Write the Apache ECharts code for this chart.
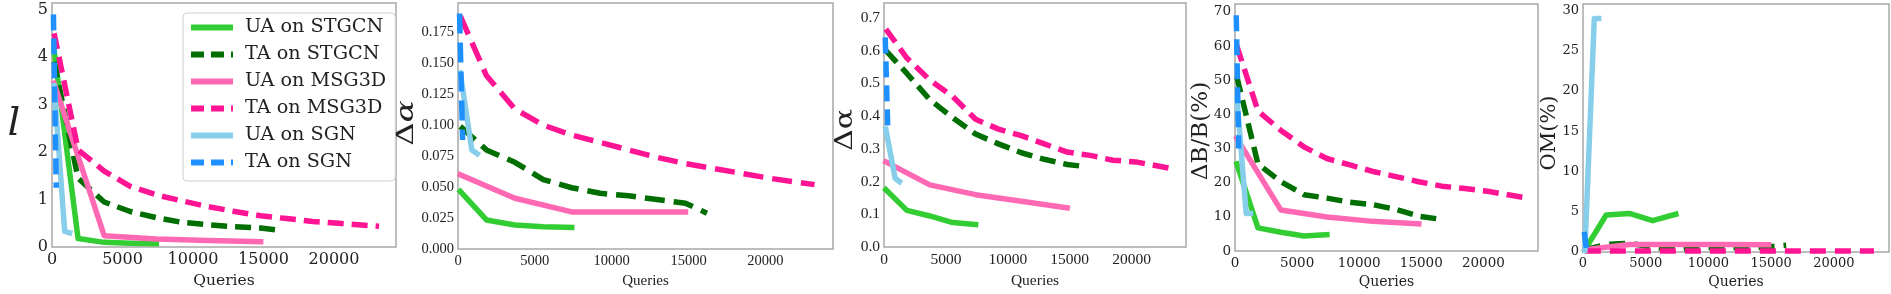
<!DOCTYPE html>
<html><head><meta charset="utf-8">
<script src="https://cdn.jsdelivr.net/npm/echarts@6/dist/echarts.min.js"></script>
<style>html,body{margin:0;padding:0;background:#fff}#c{width:1891px;height:294px}</style>
</head><body><div id="c"></div>
<script>
// ---- data ----
const seriesNames = ['UA on STGCN','TA on STGCN','UA on MSG3D','TA on MSG3D','UA on SGN','TA on SGN'];
const seriesColors = ['#32CD32','#006E00','#FF69B4','#FF1493','#87CEEB','#1E90FF'];
const seriesDashed = [false,true,false,true,false,true];

const xUA_STGCN = [150, 1850, 3700, 5550, 7400];
const xTA_STGCN = [150, 1850, 3700, 5550, 7400, 9250, 11100, 12950, 14800, 16200];
const xUA_MSG3D = [150, 3700, 7400, 11100, 14800];
const xTA_MSG3D = [150, 1850, 3700, 5550, 7400, 9250, 11100, 12950, 14800, 16650, 18500, 20350, 23200];
const xUA_SGN = [150, 900, 1250];
const xTA_SGN = [100, 300];

// panel 1: l
const l_UA_STGCN = [4.15, 0.18, 0.10, 0.08, 0.07];
const l_TA_STGCN = [3.9, 1.45, 0.95, 0.75, 0.62, 0.52, 0.47, 0.43, 0.40, 0.35];
const l_UA_MSG3D = [3.45, 0.24, 0.17, 0.14, 0.115];
const l_TA_MSG3D = [4.5, 2.05, 1.6, 1.28, 1.1, 0.97, 0.85, 0.75, 0.66, 0.6, 0.54, 0.5, 0.44];
const l_UA_SGN = [3.4, 0.33, 0.3];
const l_TA_SGN = [4.9, 1.25];

// panel 2: Δa
const da_UA_STGCN = [0.0465, 0.0235, 0.0195, 0.018, 0.0175];
const da_TA_STGCN = [0.099, 0.080, 0.070, 0.056, 0.0495, 0.045, 0.043, 0.040, 0.037, 0.029];
const da_UA_MSG3D = [0.060, 0.041, 0.030, 0.030, 0.030];
const da_TA_MSG3D = [0.188, 0.140, 0.113, 0.100, 0.092, 0.086, 0.080, 0.074, 0.069, 0.065, 0.061, 0.057, 0.052];
const da_UA_SGN = [0.142, 0.080, 0.077];
const da_TA_SGN = [0.19, 0.088];

// panel 3: Δα
const dal_UA_STGCN = [0.175, 0.112, 0.095, 0.075, 0.069];
const dal_TA_STGCN = [0.60, 0.53, 0.45, 0.395, 0.345, 0.315, 0.288, 0.268, 0.252, 0.246];
const dal_UA_MSG3D = [0.26, 0.19, 0.16, 0.14, 0.12];
const dal_TA_MSG3D = [0.665, 0.577, 0.51, 0.46, 0.39, 0.36, 0.34, 0.315, 0.29, 0.28, 0.265, 0.26, 0.24];
const dal_UA_SGN = [0.36, 0.21, 0.20];
const dal_TA_SGN = [0.64, 0.37];

// panel 4: ΔB/B(%)
const db_UA_STGCN = [25.5, 6.8, 5.5, 4.4, 4.8];
const db_TA_STGCN = [51, 25.5, 20.3, 16.5, 15.5, 14.3, 13.6, 12.2, 10.2, 9.5];
const db_UA_MSG3D = [33, 12, 10, 8.7, 8.0];
const db_TA_MSG3D = [60, 41, 35.3, 30.5, 27.1, 25.2, 23.3, 21.8, 20.3, 19, 18.3, 17.5, 15.7];
const db_UA_SGN = [45, 11, 11];
const db_TA_SGN = [69, 30];

// panel 5: OM(%)
const om_UA_STGCN = [0.3, 4.6, 4.8, 3.9, 4.7];
const om_TA_STGCN = [0.3, 0.95, 1.1, 0.6, 0.3, 0.6, 0.55, 0.5, 0.65, 0.85];
const om_UA_MSG3D = [0.3, 0.95, 0.95, 0.95, 0.9];
const om_TA_MSG3D = [0.15, 0.15, 0.15, 0.15, 0.15, 0.15, 0.15, 0.15, 0.15, 0.15, 0.15, 0.15, 0.15];
const om_UA_SGN = [0.2, 29, 29];
const om_TA_SGN = [2.5, 0.1];

const xTicks = [0, 5000, 10000, 15000, 20000];
const yTicks1 = [0, 1, 2, 3, 4, 5];
const yTicks2 = [0, 0.025, 0.05, 0.075, 0.1, 0.125, 0.15, 0.175];
const yTicks3 = [0, 0.1, 0.2, 0.3, 0.4, 0.5, 0.6, 0.7];
const yTicks4 = [0, 10, 20, 30, 40, 50, 60, 70];
const yTicks5 = [0, 5, 10, 15, 20, 25, 30];
const yTitles = ['l', 'Δα', 'Δα', 'ΔB/B(%)', 'OM(%)'];
const xTitle = 'Queries';

// ---- build ----
const xs = [xUA_STGCN, xTA_STGCN, xUA_MSG3D, xTA_MSG3D, xUA_SGN, xTA_SGN];
const panels = [
  [l_UA_STGCN, l_TA_STGCN, l_UA_MSG3D, l_TA_MSG3D, l_UA_SGN, l_TA_SGN],
  [da_UA_STGCN, da_TA_STGCN, da_UA_MSG3D, da_TA_MSG3D, da_UA_SGN, da_TA_SGN],
  [dal_UA_STGCN, dal_TA_STGCN, dal_UA_MSG3D, dal_TA_MSG3D, dal_UA_SGN, dal_TA_SGN],
  [db_UA_STGCN, db_TA_STGCN, db_UA_MSG3D, db_TA_MSG3D, db_UA_SGN, db_TA_SGN],
  [om_UA_STGCN, om_TA_STGCN, om_UA_MSG3D, om_TA_MSG3D, om_UA_SGN, om_TA_SGN]
];
const yTicksAll = [yTicks1, yTicks2, yTicks3, yTicks4, yTicks5];
const yMax = [5.14, 0.1985, 0.745, 72.3, 30.8];
const xMax = 24400;
const decimals = [0, 3, 1, 0, 0];

const grids = [
  {left: 52, top: 3, width: 344, height: 254},
  {left: 458, top: 3, width: 375, height: 254},
  {left: 884, top: 3, width: 302, height: 254},
  {left: 1235, top: 4, width: 303, height: 254.5},
  {left: 1583, top: 4, width: 306, height: 257}
];
const tickFont = [['DejaVu Serif', 16], ['Liberation Serif', 14.5], ['Liberation Serif', 15.5], ['DejaVu Serif', 13.5], ['DejaVu Serif', 13]];
const xTitleFont = [['DejaVu Serif', 15.5, 24], ['Liberation Serif', 15, 22], ['Liberation Serif', 15.5, 22], ['DejaVu Serif', 14, 20], ['DejaVu Serif', 14, 18]];
const dashes = [[16, 8], [20, 9], [16, 8], [16, 8], [16, 9]];

const gridOpt = [], xAxes = [], yAxes = [], series = [];
grids.forEach((g, p) => {
  gridOpt.push(Object.assign({show: true, borderColor: '#a8a8a8', borderWidth: 1.5, backgroundColor: 'transparent'}, g));
  xAxes.push({
    type: 'value', gridIndex: p, min: 0, max: xMax,
    axisLine: {show: false}, axisTick: {show: false}, splitLine: {show: false},
    axisLabel: {customValues: xTicks, margin: 5, color: '#222', fontFamily: tickFont[p][0], fontSize: tickFont[p][1],
      formatter: v => String(Math.round(v))},
    name: xTitle, nameLocation: 'middle', nameGap: xTitleFont[p][2],
    nameTextStyle: {fontFamily: xTitleFont[p][0], fontSize: xTitleFont[p][1], color: '#222'}
  });
  const dec = decimals[p];
  yAxes.push({
    type: 'value', gridIndex: p, min: 0, max: yMax[p],
    axisLine: {show: false}, axisTick: {show: false}, splitLine: {show: false},
    axisLabel: {customValues: yTicksAll[p], margin: 4, color: '#222', fontFamily: tickFont[p][0], fontSize: tickFont[p][1],
      formatter: v => v.toFixed(dec)}
  });
  panels[p].forEach((ys, s) => {
    series.push({
      type: 'line', name: seriesNames[s], xAxisIndex: p, yAxisIndex: p,
      data: xs[s].map((x, i) => [x, ys[i]]),
      symbol: 'none', showSymbol: false, animation: false, silent: true,
      color: seriesColors[s],
      lineStyle: {color: seriesColors[s], width: 5.5, type: seriesDashed[s] ? dashes[p] : 'solid',
        cap: seriesDashed[s] ? 'butt' : 'square', join: 'round'}
    });
  });
});

const legendData = seriesNames.map((n, s) => ({
  name: n,
  itemStyle: {opacity: 0},
  lineStyle: {color: seriesColors[s], width: 6, type: seriesDashed[s] ? [13, 7] : 'solid', cap: 'butt', opacity: 1}
}));

const titleColor = '#222';
const graphic = [
  {type: 'text', x: 14, y: 125, style: {text: yTitles[0], font: 'italic 40px "DejaVu Serif"', fill: titleColor, align: 'center', verticalAlign: 'middle', textAlign: 'center', textVerticalAlign: 'middle'}},
  {type: 'text', x: 407, y: 123, rotation: Math.PI / 2, scaleX: 1.35, style: {text: '{n|Δ}{i|α}', fill: titleColor, align: 'center', verticalAlign: 'middle', textAlign: 'center', textVerticalAlign: 'middle',
    rich: {n: {font: '24px "DejaVu Serif"', fill: titleColor}, i: {font: 'italic 24px "DejaVu Serif"', fill: titleColor}}}},
  {type: 'text', x: 846, y: 130, rotation: Math.PI / 2, scaleX: 1.25, style: {text: yTitles[2], font: '24px "DejaVu Serif"', fill: titleColor, align: 'center', verticalAlign: 'middle', textAlign: 'center', textVerticalAlign: 'middle'}},
  {type: 'text', x: 1201, y: 131, rotation: Math.PI / 2, scaleX: 1.05, style: {text: yTitles[3], font: '22px "DejaVu Serif"', fill: titleColor, align: 'center', verticalAlign: 'middle', textAlign: 'center', textVerticalAlign: 'middle'}},
  {type: 'text', x: 1550, y: 133, rotation: Math.PI / 2, style: {text: yTitles[4], font: '21px "DejaVu Serif"', fill: titleColor, align: 'center', verticalAlign: 'middle', textAlign: 'center', textVerticalAlign: 'middle'}}
];

const chart = echarts.init(document.getElementById('c'), null, {renderer: 'canvas'});
chart.setOption({
  animation: false,
  backgroundColor: '#fff',
  grid: gridOpt, xAxis: xAxes, yAxis: yAxes, series: series, graphic: graphic,
  legend: {
    data: legendData, orient: 'vertical', left: 183, top: 13,
    padding: [5, 9, 9, 5], itemWidth: 42, itemHeight: 14, itemGap: 8,
    backgroundColor: '#fff', borderColor: '#d0d0d0', borderWidth: 1, borderRadius: 4,
    selectedMode: false,
    textStyle: {fontFamily: 'DejaVu Serif', fontSize: 19.2, color: '#222', padding: [0, 0, 0, 7]},
    z: 10
  }
});
</script></body></html>
